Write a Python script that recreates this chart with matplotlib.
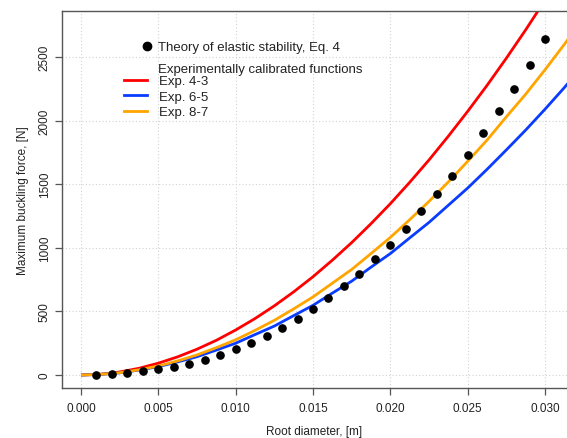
import matplotlib
matplotlib.use("Agg")
import matplotlib.pyplot as plt
from matplotlib.lines import Line2D

plt.rcParams['font.family'] = ['Liberation Sans', 'DejaVu Sans']

# theory of elastic stability, Eq. 4 (points)
d_theory = [0.001, 0.002, 0.003, 0.004, 0.005, 0.006, 0.007, 0.008, 0.009, 0.010,
            0.011, 0.012, 0.013, 0.014, 0.015, 0.016, 0.017, 0.018, 0.019, 0.020,
            0.021, 0.022, 0.023, 0.024, 0.025, 0.026, 0.027, 0.028, 0.029, 0.030]
f_theory = [3, 10, 18, 30, 44, 62, 86, 119, 157, 203,
            252, 308, 370, 443, 519, 608, 697, 797, 910, 1020,
            1148, 1287, 1423, 1567, 1727, 1900, 2075, 2251, 2440, 2639]

# experimentally calibrated functions
d_curve = [0, 0.00125, 0.0025, 0.00375, 0.005, 0.00625, 0.0075, 0.00875,
           0.01, 0.01125, 0.0125, 0.01375, 0.015, 0.01625, 0.0175, 0.01875,
           0.02, 0.02125, 0.0225, 0.02375, 0.025, 0.02625, 0.0275, 0.02875,
           0.03, 0.03125, 0.0325]
f_exp43 = [0, 6, 24, 53, 93, 143, 203, 273, 354, 444, 544, 654, 773, 903,
           1041, 1190, 1347, 1515, 1691, 1878, 2073, 2277, 2491, 2714, 2947,
           3189, 3439]
f_exp65 = [0, 5, 17, 39, 66, 103, 144, 196, 250, 318, 385, 467, 548, 644,
           738, 848, 955, 1078, 1200, 1335, 1470, 1617, 1770, 1926, 2090,
           2260, 2440]
f_exp87 = [0, 5, 18, 41, 71, 111, 158, 215, 277, 351, 430, 520, 614, 722,
           830, 955, 1082, 1221, 1365, 1518, 1680, 1847, 2030, 2208, 2400,
           2600, 2810]

labels = ["Exp. 4-3", "Exp. 6-5", "Exp. 8-7"]
colors = ["#ff0000", "#0a3cff", "#ffa500"]

fig = plt.figure(figsize=(5.67, 4.39), dpi=100)
ax = fig.add_axes([0.1093, 0.1139, 0.8907, 0.8588])

ax.grid(True, color="#d2d2d2", linestyle=(0, (1, 2)), linewidth=0.8)
ax.set_axisbelow(True)

for f, c in zip([f_exp43, f_exp65, f_exp87], colors):
    ax.plot(d_curve, f, color=c, linewidth=2.0, solid_capstyle="butt")
ax.plot(d_theory, f_theory, "o", color="black", markersize=5.2, linestyle="none")

ax.set_xlim(-0.00123, 0.03142)
ax.set_ylim(-102, 2862)
ax.set_xticks([0.000, 0.005, 0.010, 0.015, 0.020, 0.025, 0.030])
ax.set_xticklabels(["0.000", "0.005", "0.010", "0.015", "0.020", "0.025", "0.030"])
ax.set_yticks([0, 500, 1000, 1500, 2000, 2500])
for lab in ax.get_yticklabels():
    lab.set_rotation(90)
    lab.set_va("center")

for s in ["left", "bottom", "top"]:
    ax.spines[s].set_color("#555555")
    ax.spines[s].set_linewidth(1.0)
ax.spines["right"].set_visible(False)
ax.tick_params(direction="out", length=5, width=0.9, color="#555555",
               labelsize=8.5, labelcolor="#222222", pad=5)
ax.tick_params(axis="y", pad=3)

ax.set_xlabel("Root diameter, [m]", fontsize=8.5, color="#222222", labelpad=8)
ax.set_ylabel("Maximum buckling force, [N]", fontsize=8.5, color="#222222", labelpad=7)

# legend: theory point
h_pt = [Line2D([], [], marker="o", color="black", linestyle="none", markersize=6)]
leg1 = ax.legend(h_pt, ["Theory of elastic stability, Eq. 4"], loc="upper left",
                 bbox_to_anchor=(0.155, 0.9205), frameon=False, fontsize=9.5,
                 handlelength=1.0, handletextpad=0.35, borderaxespad=0, borderpad=0)
ax.add_artist(leg1)

ax.text(0.1900, 0.845, "Experimentally calibrated functions", transform=ax.transAxes,
        fontsize=9.5, va="center", ha="left", color="#222222")

h_ln = [Line2D([], [], color=c, linewidth=2.0) for c in colors]
leg2 = ax.legend(h_ln, labels, loc="upper left", bbox_to_anchor=(0.1227, 0.830),
                 frameon=False, fontsize=9.5, handlelength=1.76, handletextpad=0.9,
                 labelspacing=0.25, borderaxespad=0, borderpad=0)
for t in leg1.get_texts() + leg2.get_texts():
    t.set_color("#222222")

fig.savefig("out.png", dpi=100)
